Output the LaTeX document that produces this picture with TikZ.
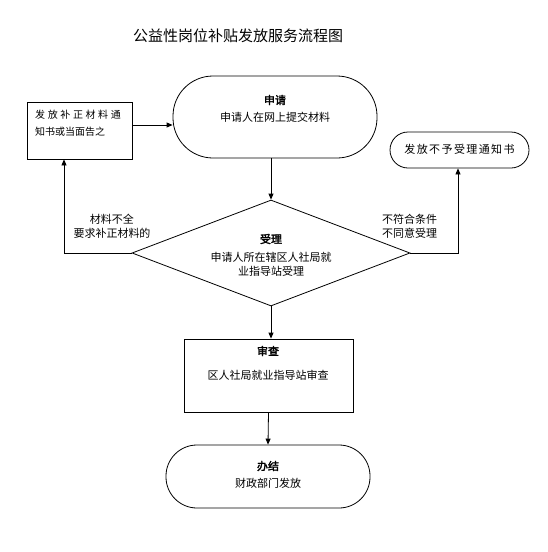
\documentclass[tikz,border=0pt]{standalone}
\usepackage{fontspec}
\setmainfont{Noto Sans CJK SC}[AutoFakeBold=2.5]
\usetikzlibrary{arrows.meta,shapes.geometric}
\newcommand{\gp}[1]{\hspace{#1}}
\begin{document}
\begin{tikzpicture}[x=1pt,y=-1pt,
  shp/.style={draw,line width=0.8pt,inner sep=0pt},
  txt/.style={inner sep=0pt,font=\fontsize{11}{14}\selectfont},
  arr/.style={line width=0.8pt,-{Triangle[length=6pt,width=5pt]}},
  ln/.style={line width=0.8pt}]
\useasboundingbox (0,0) rectangle (548,552);
% title
\node[inner sep=0pt,font=\fontsize{15}{18}\selectfont] (title) at (238,36) {公益性岗位补贴发放服务流程图};
% shapes
\node[shp,rectangle,rounded corners=40pt,minimum width=204pt,minimum height=82pt] (start) at (275,117) {};
\node[shp,rectangle,minimum width=105pt,minimum height=57pt] (lbox) at (79.5,130.5) {};
\node[shp,rectangle,rounded corners=18pt,minimum width=139pt,minimum height=36pt] (rej) at (459.5,150) {};
\node[shp,diamond,minimum width=278pt,minimum height=106pt] (dia) at (271,253) {};
\node[shp,rectangle,minimum width=169pt,minimum height=73pt] (rev) at (268.5,375.5) {};
\node[shp,rectangle,rounded corners=31pt,minimum width=204pt,minimum height=63pt] (endn) at (268,476.5) {};
% texts
\node[txt] (t1a) at (275,100) {\textbf{申请}};
\node[txt] (t1b) at (275,117) {申请人在网上提交材料};
\node[inner sep=0pt,font=\fontsize{10}{17}\selectfont,align=left,anchor=west] (t2) at (35,123.5)
  {发\gp{2.6pt}放\gp{2.6pt}补\gp{2.6pt}正\gp{2.6pt}材\gp{2.6pt}料\gp{2.6pt}通\\知书或当面告之};
\node[txt] (t3) at (459.5,149) {发\gp{1.4pt}放\gp{1.4pt}不\gp{1.4pt}予\gp{1.4pt}受\gp{1.4pt}理\gp{1.4pt}通\gp{1.4pt}知\gp{1.4pt}书};
\node[txt] (t4a) at (271,239) {\textbf{受理}};
\node[txt,align=center] (t4b) at (271,264.5) {申请人所在辖区人社局就\\业指导站受理};
\node[txt] (t5a) at (268,351) {\textbf{审查}};
\node[txt] (t5b) at (268,375) {区人社局就业指导站审查};
\node[txt] (t6a) at (268,466) {\textbf{办结}};
\node[txt] (t6b) at (268,483) {财政部门发放};
\node[txt,align=center] (lab1) at (112,226) {材料不全\\要求补正材料的};
\node[txt,align=left,anchor=west] (lab2) at (382,226) {不符合条件\\不同意受理};
% connectors
\draw[arr] (lbox.east |- 0,125) -- (start.west |- 0,125);
\draw[arr] (start.south -| dia.north) -- (dia.north);
\draw[arr] (dia.south) -- (dia.south |- rev.north);
\draw[arr] (rev.south) -- (endn.north);
\draw[arr] (dia.west) -| ([xshift=-15.5pt]lbox.south);
\draw[arr] (dia.east) -| ([xshift=-1.5pt]rej.south);
\end{tikzpicture}
\end{document}
